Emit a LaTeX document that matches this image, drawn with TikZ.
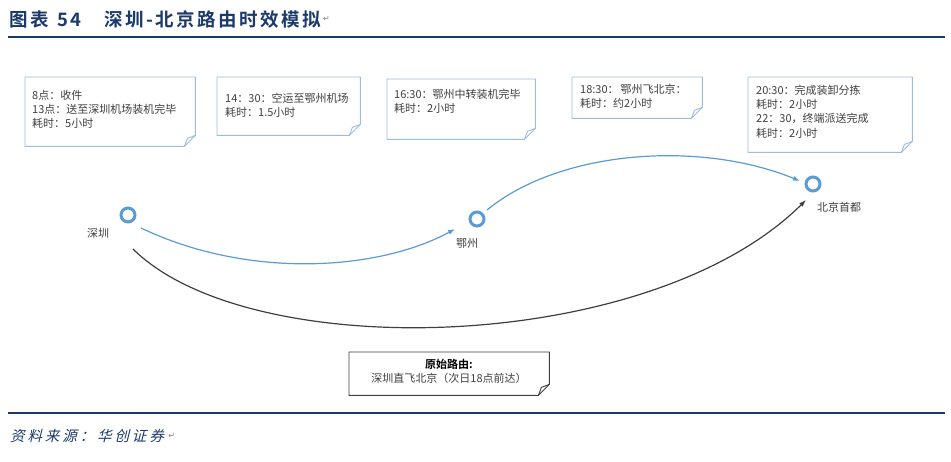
\documentclass[tikz,border=0pt]{standalone}
\usepackage{fontspec}
\setmainfont{Noto Sans CJK SC}
\newfontfamily\cjk{Noto Sans CJK SC}
\newfontfamily\cjkb{Noto Sans CJK SC Bold}
\newfontfamily\cjkt[LetterSpace=13]{Noto Sans CJK SC Bold}
\newfontfamily\cjki[FakeSlant=0.25,LetterSpace=20]{Noto Sans CJK SC}
\newfontfamily\symf{DejaVu Sans}
\usetikzlibrary{calc,arrows.meta}
\definecolor{titleblue}{HTML}{1B3A6B}
\definecolor{boxblue}{HTML}{9BBCE0}
\definecolor{ringblue}{HTML}{5B9BD5}
\definecolor{txt}{HTML}{404040}
\definecolor{darkline}{HTML}{3F3F3F}
\tikzset{
  notebox/.style={rectangle, draw=none, inner sep=0pt, anchor=north west},
  notetext/.style={anchor=north west, inner sep=0pt, align=left, text=txt,
     font=\cjk\fontsize{11}{14.2}\selectfont},
  ring/.style={circle, draw=ringblue, line width=3pt, minimum size=14pt, inner sep=0pt},
  placelabel/.style={text=txt, inner sep=0pt, font=\cjk\fontsize{11}{12}\selectfont},
  bluearrow/.style={draw=ringblue, line width=1.2pt, -{Latex[length=7pt,width=5pt]}},
  greyarrow/.style={draw=darkline, line width=1.2pt, -{Latex[length=7pt,width=5pt]}},
  pmark/.style={text=gray, inner sep=0pt, font=\symf\fontsize{8}{8}\selectfont}
}
\newcommand\drawnote[2]{%
  \draw[#2, line width=0.9pt, line join=miter]
    (#1.north west) -- (#1.north east) -- ($(#1.south east)+(0,-11)$)
    -- ($(#1.south east)+(-11,0)$) -- (#1.south west) -- cycle;
  \draw[#2, line width=0.9pt]
    ($(#1.south east)+(-11,0)$) .. controls ($(#1.south east)+(-9,-4)$) .. ($(#1.south east)+(-8,-8)$)
    -- ($(#1.south east)+(0,-11)$);
}
\begin{document}
\begin{tikzpicture}[x=1pt,y=-1pt]
\useasboundingbox (0,0) rectangle (951,461);
\fill[white] (0,0) rectangle (951,461);

% title
\node[anchor=west, inner sep=0pt, text=titleblue, font=\cjkt\fontsize{18.5}{18.5}\selectfont] (title) at (9,19)
  {图表\hspace{9pt}54\hspace{23pt}深圳-北京路由时效模拟};
\node[pmark, anchor=west] (tmark) at ([xshift=2pt]title.east) {↵};
\draw[titleblue, line width=2.2pt] (8,37) -- (945,37);

% note boxes
\node[notebox, minimum width=170pt, minimum height=69pt] (b1) at (25,77) {};
\node[notebox, minimum width=143pt, minimum height=58pt] (b2) at (217,77) {};
\node[notebox, minimum width=148pt, minimum height=60pt] (b3) at (387,79) {};
\node[notebox, minimum width=130pt, minimum height=41pt] (b4) at (572,77) {};
\node[notebox, minimum width=164pt, minimum height=75pt] (b5) at (748,77) {};
\drawnote{b1}{boxblue}
\drawnote{b2}{boxblue}
\drawnote{b3}{boxblue}
\drawnote{b4}{boxblue}
\drawnote{b5}{boxblue}

\node[notetext] (t1) at (32,90) {8点：收件\\13点：送至深圳机场装机完毕\\耗时：5小时};
\node[notetext] (t2) at (225,93) {14：30：空运至鄂州机场\\耗时：1.5小时};
\node[notetext] (t3) at (394,89) {16:30：鄂州中转装机完毕\\耗时：2小时};
\node[notetext] (t4) at (580,84) {18:30：\,鄂州飞北京：\\耗时：约2小时};
\node[notetext] (t5) at (756,85) {20:30：完成装卸分拣\\耗时：2小时\\22：30，终端派送完成\\耗时：2小时};

% places
\node[ring] (c1) at (128,215) {};
\node[ring] (c2) at (477,219) {};
\node[ring] (c3) at (813,184) {};
\node[placelabel] (l1) at (98,233) {深圳};
\node[placelabel] (l2) at (467,243) {鄂州};
\node[placelabel] (l3) at (839,207) {北京首都};

% routes
\draw[bluearrow] ($(c1)+(13,13)$) .. controls (250,280) and (380,270) .. ($(c2)+(-22,10)$);
\draw[bluearrow] ($(c2)+(10,-9)$) .. controls (560,150) and (700,140) .. ($(c3)+(-13,-3)$);
\draw[greyarrow] ($(c1)+(5,34)$) .. controls (250,365) and (650,355) .. ($(c3)+(-7,16)$);

% original route box
\node[notebox, minimum width=200pt, minimum height=43pt] (b6) at (349,352) {};
\drawnote{b6}{darkline}
\node[text=black, inner sep=0pt, font=\cjkb\fontsize{11}{12}\selectfont] (o1) at (449,364) {原始路由:};
\node[text=txt, inner sep=0pt, font=\cjk\fontsize{11}{12}\selectfont] (o2) at (449,378) {深圳直飞北京（次日18点前达）};

% footer
\draw[titleblue, line width=2.2pt] (8,413) -- (945,413);
\node[anchor=west, inner sep=0pt, text=titleblue, font=\cjki\fontsize{14.5}{14.5}\selectfont] (src) at (10,436)
  {资料来源：华创证券};
\node[pmark, anchor=west] (smark) at ([xshift=4pt]src.east) {↵};
\end{tikzpicture}
\end{document}
